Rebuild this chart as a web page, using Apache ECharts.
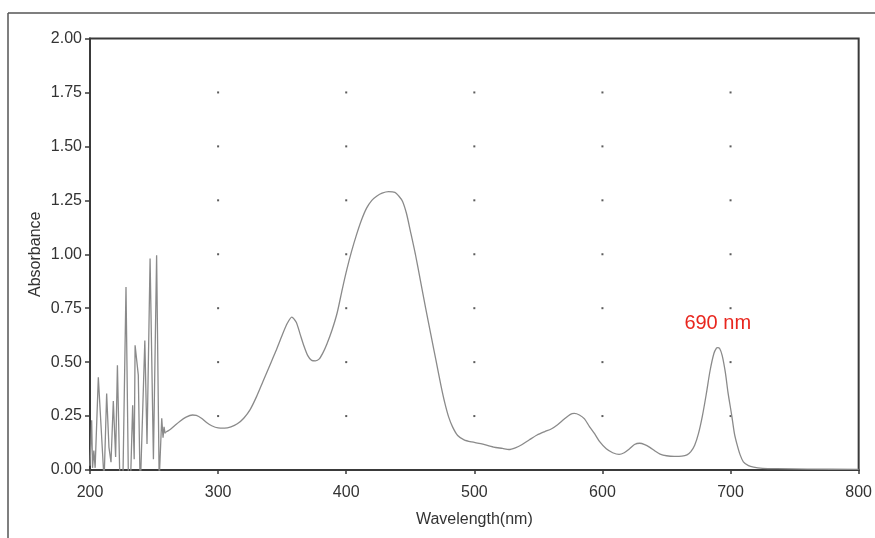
<!DOCTYPE html>
<html>
<head>
<meta charset="utf-8">
<title>Absorbance spectrum</title>
<script src="https://cdn.jsdelivr.net/npm/echarts@6/dist/echarts.min.js"></script>
<style>
  html, body { margin: 0; padding: 0; background: #fff; }
  #chart { width: 875px; height: 538px; }
</style>
</head>
<body>
<div id="chart"></div>
<script>
// Wavelength (nm) and absorbance readings of the measured spectrum
const wavelengths = [
  200, 201.3, 202, 203, 204, 206.5, 211, 213, 214.8, 216.4, 218.2, 220, 221.4, 223.5,
  225, 228.1, 230.5, 233.3, 234.5, 235.2, 237.7, 239.2, 242.8, 244.5, 246.9, 249.5,
  252, 254, 256, 257, 257.8, 258.6,
  259, 262, 266, 270, 275, 280, 283, 287, 291, 295, 300, 305, 310, 315, 320, 325,
  330, 335, 340, 345, 350, 354, 357.5, 361, 364, 367, 370, 373, 376, 379, 382, 385,
  389, 393, 397, 400.5, 404, 408, 412, 416, 420, 424, 428, 433, 438, 441, 444, 447,
  450, 454, 458, 462, 466, 470, 474, 477, 480, 483, 487, 492, 498, 505, 515, 522,
  527, 532, 537, 543, 549, 555, 560, 565, 570, 575, 578, 582, 586, 590, 594, 598,
  603, 608, 613, 617, 621, 625, 629, 633, 637, 641, 645, 650, 656, 662, 666, 669,
  672, 675, 678, 681, 684, 687, 689, 690, 691.5, 693.5, 696, 698, 701, 703, 705,
  707.5, 710, 714, 718, 725, 736, 760, 800
];
const absorbance = [
  0.02, 0.23, 0.01, 0.09, 0.01, 0.43, -0.05, 0.355, 0.105, 0.036, 0.32, 0.06, 0.485, -0.1,
  -0.3, 0.848, -0.3, 0.30, 0.05, 0.578, 0.44, -0.1, 0.60, 0.12, 0.98, 0.05,
  0.995, -0.05, 0.24, 0.15, 0.20, 0.17,
  0.175, 0.185, 0.205, 0.225, 0.245, 0.255, 0.253, 0.24, 0.22, 0.205, 0.195, 0.194, 0.20, 0.214, 0.24, 0.28,
  0.34, 0.41, 0.48, 0.55, 0.625, 0.68, 0.709, 0.685, 0.63, 0.575, 0.53, 0.508, 0.506, 0.515, 0.545, 0.585,
  0.65, 0.73, 0.84, 0.93, 1.01, 1.09, 1.16, 1.215, 1.25, 1.27, 1.283, 1.29, 1.287, 1.27, 1.245, 1.19,
  1.11, 1.0, 0.875, 0.75, 0.63, 0.51, 0.39, 0.31, 0.245, 0.20, 0.16, 0.14, 0.13, 0.122, 0.106, 0.10,
  0.095, 0.103, 0.117, 0.14, 0.162, 0.178, 0.19, 0.21, 0.235, 0.258, 0.262, 0.255, 0.237, 0.20, 0.167, 0.13,
  0.098, 0.08, 0.072, 0.08, 0.097, 0.118, 0.124, 0.118, 0.105, 0.088, 0.074, 0.066, 0.063, 0.064, 0.07, 0.085,
  0.115, 0.17, 0.25, 0.35, 0.46, 0.54, 0.565, 0.567, 0.563, 0.53, 0.45, 0.36, 0.25, 0.17, 0.12,
  0.07, 0.038, 0.02, 0.013, 0.008, 0.006, 0.004, 0.003
];
// Readings below this index belong to the noisy deep-UV region (drawn unsmoothed)
const noisyCount = 32;

// Annotated peak
const peakLabel = '690 nm';
const peakWavelength = 690;
const peakAbsorbance = 0.567;

// Axis ticks (grid dots sit at the inner intersections)
const xTicks = [200, 300, 400, 500, 600, 700, 800];
const yTicks = [0, 0.25, 0.5, 0.75, 1.0, 1.25, 1.5, 1.75, 2.0];

const spectrum = wavelengths.map((w, i) => [w, absorbance[i]]);
const noisyPart = spectrum.slice(0, noisyCount + 1);
const smoothPart = spectrum.slice(noisyCount);
const gridDots = [];
xTicks.slice(1, -1).forEach(x => {
  yTicks.slice(1, -1).forEach(y => gridDots.push([x, y]));
});

const font = '"Liberation Sans", Arial, sans-serif';
const axisColor = '#3a3a3a';
const traceStyle = { color: '#8a8a8a', width: 1.3 };

const chart = echarts.init(document.getElementById('chart'), null, { renderer: 'canvas' });
chart.setOption({
  animation: false,
  backgroundColor: '#ffffff',
  textStyle: { fontFamily: font },
  grid: {
    left: 90, right: 16, top: 38.5, bottom: 68,
    show: true, borderColor: axisColor, borderWidth: 2, backgroundColor: 'transparent'
  },
  graphic: [
    { type: 'line', shape: { x1: 8, y1: 13, x2: 875, y2: 13 }, style: { stroke: '#555', lineWidth: 1.5 }, silent: true },
    { type: 'line', shape: { x1: 8, y1: 13, x2: 8, y2: 538 }, style: { stroke: '#555', lineWidth: 1.5 }, silent: true }
  ],
  xAxis: {
    type: 'value', min: 200, max: 800, interval: 100,
    name: 'Wavelength(nm)', nameLocation: 'middle', nameGap: 42,
    nameTextStyle: { color: '#333', fontSize: 16, fontFamily: font },
    axisLine: { show: true, onZero: false, lineStyle: { color: axisColor, width: 2 } },
    axisTick: { show: true, length: 4, lineStyle: { color: axisColor, width: 1.5 } },
    axisLabel: { color: '#333', fontSize: 16, margin: 15, fontFamily: font },
    splitLine: { show: false }
  },
  yAxis: {
    type: 'value', min: 0, max: 2, interval: 0.25,
    name: 'Absorbance', nameLocation: 'middle', nameGap: 46, nameRotate: 90,
    nameMoveOverlap: false,
    nameTextStyle: { color: '#333', fontSize: 16, fontFamily: font },
    axisLine: { show: true, onZero: false, lineStyle: { color: axisColor, width: 2 } },
    axisTick: { show: true, length: 5, lineStyle: { color: axisColor, width: 1.5 } },
    axisLabel: { color: '#333', fontSize: 16, margin: 8, fontFamily: font,
      formatter: v => v.toFixed(2) },
    splitLine: { show: false }
  },
  series: [
    {
      type: 'scatter', data: gridDots, symbol: 'rect', symbolSize: 2,
      itemStyle: { color: '#333' }, silent: true, z: 1
    },
    {
      type: 'line', data: noisyPart, showSymbol: false, smooth: false, clip: true,
      lineStyle: traceStyle, z: 2
    },
    {
      type: 'line', data: smoothPart, showSymbol: false, smooth: 0.25, clip: true,
      lineStyle: traceStyle, z: 2,
      markPoint: {
        symbol: 'circle', symbolSize: 0,
        data: [{ coord: [peakWavelength, peakAbsorbance], value: peakLabel }],
        label: {
          show: true, formatter: peakLabel, color: '#e8261e', fontSize: 20,
          fontFamily: font, offset: [0, -24], position: 'inside'
        }
      }
    }
  ]
});
</script>
</body>
</html>
